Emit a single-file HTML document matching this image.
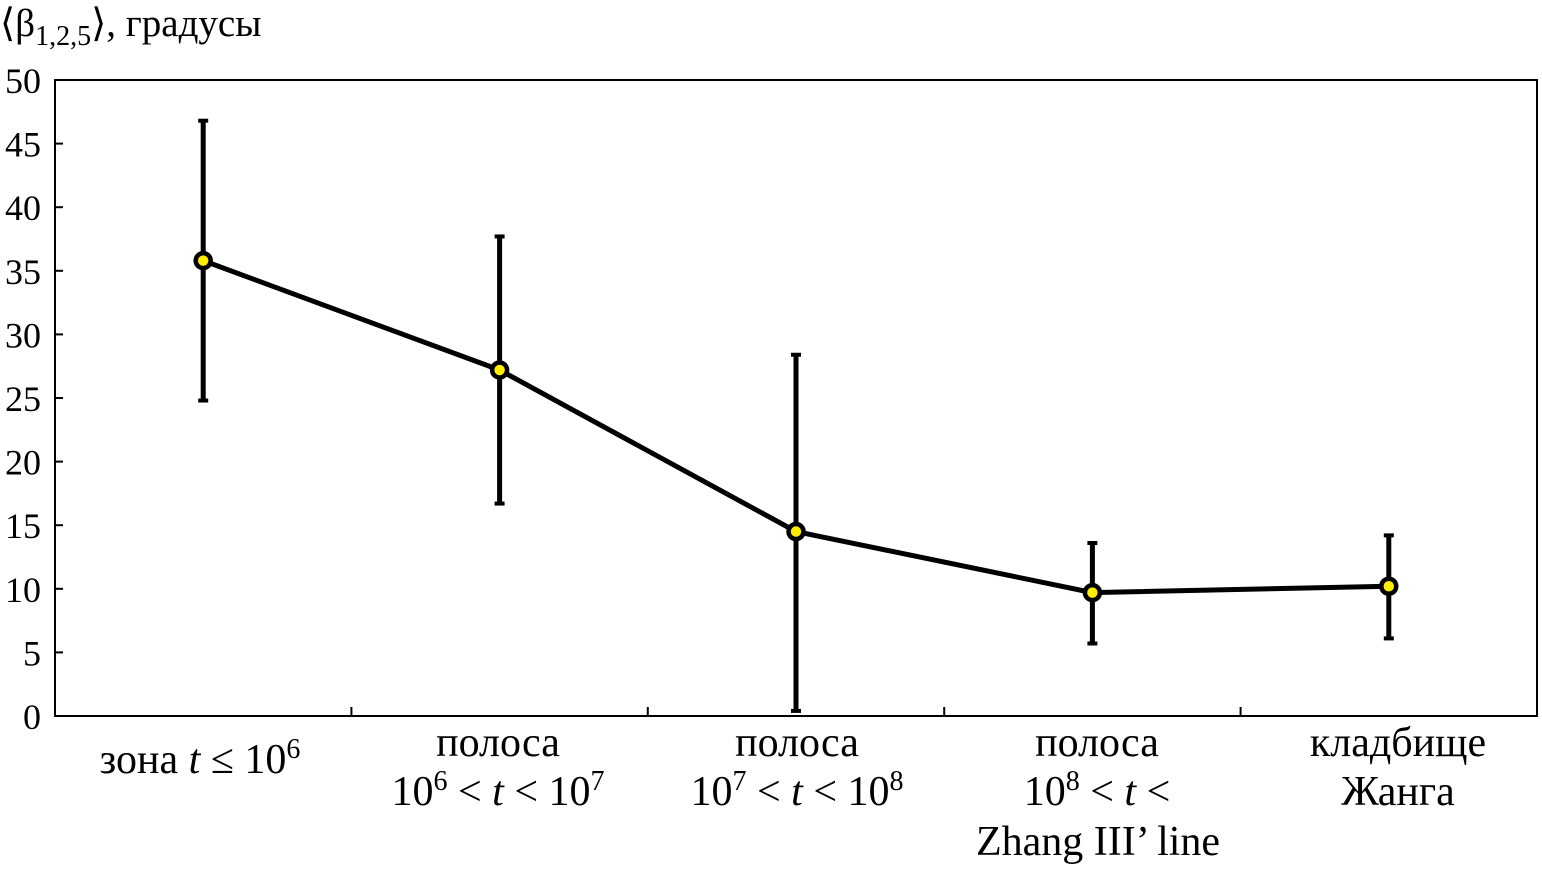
<!DOCTYPE html>
<html><head><meta charset="utf-8"><style>
html,body{margin:0;padding:0;background:#fff;}
svg text{font-family:"Liberation Serif",serif;fill:#000;}
</style></head><body>
<svg id="chart" width="1542" height="868" viewBox="0 0 1542 868">
<text x="0" y="36" font-size="39">⟨β<tspan font-size="28" dy="9">1,2,5</tspan><tspan dy="-9">⟩, градусы</tspan></text>
<rect x="55" y="80" width="1482" height="636" fill="none" stroke="#000" stroke-width="2"/>
<g id="yticks"></g><g id="xticks"></g><g id="series"></g>
<g font-size="42" text-anchor="middle">
<text x="200" y="773">зона <tspan font-style="italic">t</tspan> ≤ 10<tspan font-size="28" dy="-15">6</tspan></text>
<text x="498" y="756">полоса</text>
<text x="498" y="805">10<tspan font-size="28" dy="-15">6</tspan><tspan dy="15"> &lt; </tspan><tspan font-style="italic">t</tspan> &lt; 10<tspan font-size="28" dy="-15">7</tspan></text>
<text x="797" y="756">полоса</text>
<text x="797" y="805">10<tspan font-size="28" dy="-15">7</tspan><tspan dy="15"> &lt; </tspan><tspan font-style="italic">t</tspan> &lt; 10<tspan font-size="28" dy="-15">8</tspan></text>
<text x="1097" y="756">полоса</text>
<text x="1097" y="805">10<tspan font-size="28" dy="-15">8</tspan><tspan dy="15"> &lt; </tspan><tspan font-style="italic">t</tspan> &lt;</text>
<text x="1098" y="855">Zhang III’ line</text>
<text x="1398" y="756">кладбище</text>
<text x="1398" y="805">Жанга</text>
</g>
</svg>
<script>
const categories=["zone","band1","band2","band3","graveyard"];
const values=[35.8,27.2,14.5,9.7,10.2];
const errUpper=[46.8,37.7,28.4,13.6,14.2];
const errLower=[24.8,16.7,0.4,5.7,6.1];
const yTicks=[0,5,10,15,20,25,30,35,40,45,50];
const NS="http://www.w3.org/2000/svg";
const L=55,R=1537,T=80,B=716;
const yS=v=>B-(v/50)*(B-T);
const bw=(R-L)/categories.length;
const xS=i=>L+bw*(i+0.5);
function mk(tag,attrs,parent){const e=document.createElementNS(NS,tag);for(const k in attrs)e.setAttribute(k,attrs[k]);parent.appendChild(e);return e;}
const yg=document.getElementById('yticks');
yTicks.forEach(t=>{
 const l=mk('line',{x1:L,x2:L+8,y1:yS(t),y2:yS(t),stroke:'#000','stroke-width':2},yg);
 
 
 const tx=mk('text',{x:41,y:yS(t)+13,'font-size':36,'text-anchor':'end'},yg);
 tx.textContent=t;
 
 
});
const xg=document.getElementById('xticks');
for(let i=1;i<categories.length;i++){
 const l=mk('line',{x1:L+bw*i,x2:L+bw*i,y1:B,y2:B-9,stroke:'#000','stroke-width':2},xg);
 
 
}
const sg=document.getElementById('series');
const pl=mk('polyline',{points:values.map((v,i)=>xS(i)+','+yS(v)).join(' '),fill:'none',stroke:'#000','stroke-width':5,'stroke-linejoin':'round'},sg);


values.forEach((v,i)=>{
 const x=xS(i),g=mk('g',{},sg);
 
 
 mk('line',{x1:x,x2:x,y1:yS(errUpper[i]),y2:yS(errLower[i]),stroke:'#000','stroke-width':5},g);
 mk('line',{x1:x-5,x2:x+5,y1:yS(errUpper[i]),y2:yS(errUpper[i]),stroke:'#000','stroke-width':4},g);
 mk('line',{x1:x-5,x2:x+5,y1:yS(errLower[i]),y2:yS(errLower[i]),stroke:'#000','stroke-width':4},g);
 const c=mk('circle',{cx:x,cy:yS(v),r:7.5,fill:'#ffee00',stroke:'#000','stroke-width':4.5},sg);
 
 
});
</script>
</body></html>
